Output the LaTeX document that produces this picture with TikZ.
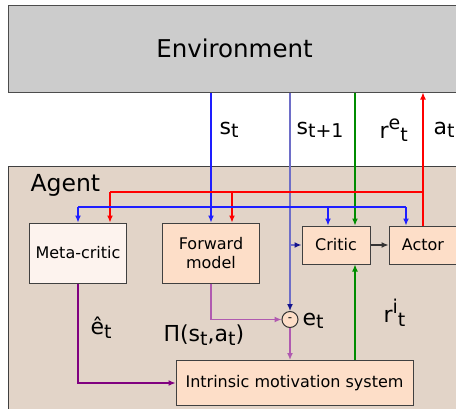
\documentclass[tikz,border=0pt]{standalone}
\usepackage{fontspec}
\setmainfont{DejaVu Sans}
\usepackage{tikz}
\usetikzlibrary{arrows.meta}
\usetikzlibrary{positioning}
\definecolor{envgrey}{RGB}{204,204,204}
\definecolor{agentbg}{RGB}{226,212,200}
\definecolor{peach}{RGB}{253,222,200}
\definecolor{pale}{RGB}{253,243,238}
\definecolor{slate}{RGB}{110,110,200}
\definecolor{navyhead}{RGB}{20,20,140}
\definecolor{stateblue}{RGB}{30,30,255}
\definecolor{darkgreen}{RGB}{0,140,0}
\definecolor{plum}{RGB}{128,0,128}
\definecolor{lightplum}{RGB}{176,90,176}
\newcommand{\lsub}[1]{\raisebox{-0.3ex}{\fontsize{19}{19}\selectfont #1}}
\newcommand{\lsup}[1]{\raisebox{0.75ex}{\fontsize{19}{19}\selectfont #1}}

\begin{document}
\begin{tikzpicture}[x=1pt,y=1pt, line width=1.2pt,
box/.style ={shape=rectangle, draw=black!75, line width=1pt, fill=peach, font=\fontsize{16}{19}\selectfont, align=center},
tip/.style ={-{Latex[length=7pt,width=6pt]}},
navytip/.style ={-{Latex[length=7pt,width=6pt,color=navyhead]}},
lbl/.style ={anchor=west, inner sep=0pt, font=\fontsize{22}{22}\selectfont},
auto]
\clip (0,0) rectangle (456,-408);
\fill[white] (0,0) rectangle (456,-408);
\draw[black!75, line width=1pt, fill=agentbg] (8,-166) rectangle (470,-430);
\node[draw=black!70, line width=1pt, fill=envgrey, minimum width=453, minimum height=87,
  font=\fontsize{24.5}{24.5}\selectfont] (env) at (234.5,-48.5) {Environment};
\node[anchor=west, font=\fontsize{23.5}{23.5}\selectfont, inner sep=0pt] (agent) at (30,-185) {Agent};

\node[box, fill=pale, minimum width=97, minimum height=60] (meta) at (78,-253) {Meta-critic};
\node[box, minimum width=97, minimum height=60] (fwd) at (211,-253) {Forward\\model};
\node[box, minimum width=68, minimum height=38] (critic) at (336,-245) {Critic};
\node[box, minimum width=68, minimum height=38] (actor) at (423,-245) {Actor};
\node[box, minimum width=237, minimum height=45] (ims) at (294.5,-383) {Intrinsic motivation system};
\node[draw=black!80, line width=1pt, fill=peach, circle, minimum size=16, inner sep=0pt,
  font=\fontsize{12}{12}\selectfont] (diff) at (290,-319.5) {-};

% drop points on the boxes
\coordinate (metar) at ([xshift=32]meta.north);
\coordinate (fwdr) at ([xshift=21]fwd.north);
\coordinate (criticb) at ([xshift=-8]critic.north);
\coordinate (actorb) at ([xshift=-17]actor.north);
\coordinate (re) at ([xshift=19]critic.north);
\coordinate (redbar) at (actor.north |- 0,-192);
\coordinate (bluebar) at (fwd.north |- 0,-207);

% state, reward and action
\draw[tip, stateblue] (fwd.north |- env.south) -- (fwd.north);
\draw[navytip, slate, line width=1.6pt] (diff.north |- env.south) -- (diff.north);
\draw[navytip, slate, line width=1.6pt] (diff.north |- critic.west) -- (critic.west);
\draw[tip, darkgreen] (re |- env.south) -- (re);
\draw[tip, red] (actor.north) -- (actor.north |- env.south);

\draw[red] (redbar) -- (metar |- redbar);
\draw[tip, red] (metar |- redbar) -- (metar);
\draw[tip, red] (fwdr |- redbar) -- (fwdr);

\draw[stateblue] (meta.north |- bluebar) -- (actorb |- bluebar);
\draw[tip, stateblue] (meta.north |- bluebar) -- (meta.north);
\draw[tip, stateblue] (criticb |- bluebar) -- (criticb);
\draw[tip, stateblue] (actorb |- bluebar) -- (actorb);

\draw[tip, black!80] (critic.east) -- (actor.west);

% prediction error
\draw[tip, plum] (meta.south) |- (ims.west);
\draw[tip, lightplum, line width=1.6pt] (fwd.south) |- (diff.west);
\draw[tip, lightplum, line width=1.6pt] (diff.south) -- (diff.south |- ims.north);
\draw[tip, darkgreen] (re |- ims.north) -- (re |- critic.south);

\node[lbl] (st) at (219,-130) {s\lsub{t}};
\node[lbl] (st1) at (296,-130) {s\lsub{t+1}};
\node[lbl] (ret) at (379,-130) {r\lsup{e}\lsub{t}};
\node[lbl] (at) at (433,-130) {a\lsub{t}};
\node[lbl] (ehat) at (90,-328) {ê\lsub{t}};
\node[lbl] (pi) at (163,-335) {Π(s\lsub{t},a\lsub{t})};
\node[lbl] (et) at (302,-321) {e\lsub{t}};
\node[lbl] (rit) at (383,-313) {r\lsup{i}\lsub{t}};
\end{tikzpicture}
\end{document}
